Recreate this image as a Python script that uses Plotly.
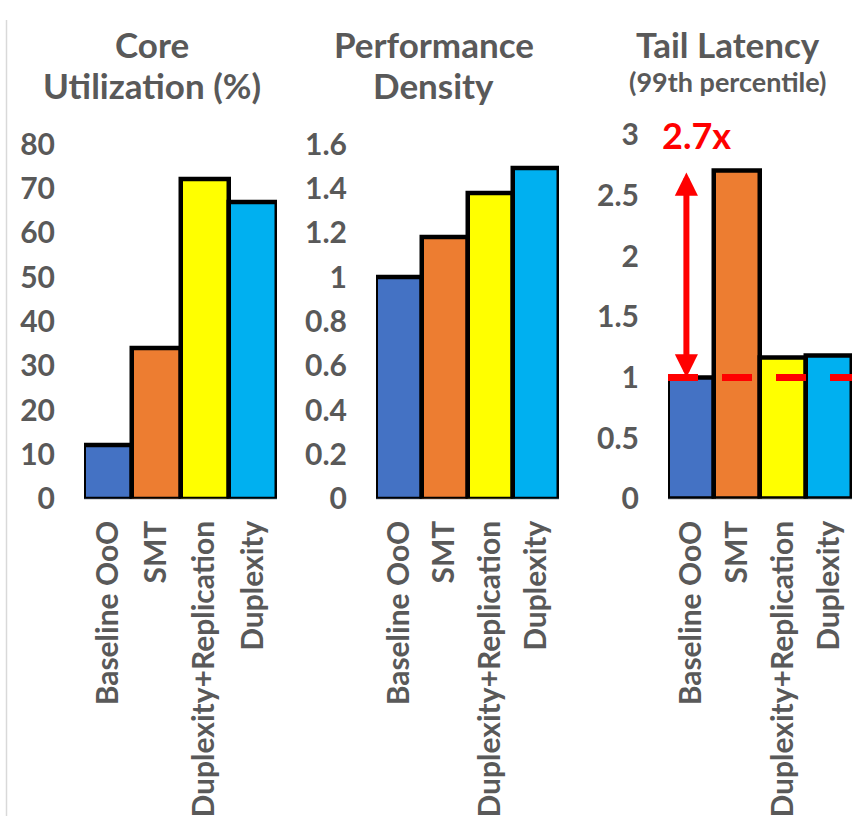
import plotly.graph_objects as go

# ---- data ----
categories = ["Baseline OoO", "SMT", "Duplexity+Replication", "Duplexity"]
bar_colors = ["#4472C4", "#ED7D31", "#FFFF00", "#00B0F0"]

core_utilization = [12, 34, 72, 67]
performance_density = [1.0, 1.18, 1.38, 1.49]
tail_latency = [1.0, 2.7, 1.16, 1.18]

util_ticks = [0, 10, 20, 30, 40, 50, 60, 70, 80]
density_ticks = [0, 0.2, 0.4, 0.6, 0.8, 1.0, 1.2, 1.4, 1.6]
latency_ticks = [0, 0.5, 1, 1.5, 2, 2.5, 3]
density_tick_text = ["0", "0.2", "0.4", "0.6", "0.8", "1", "1.2", "1.4", "1.6"]
latency_tick_text = ["0", "0.5", "1", "1.5", "2", "2.5", "3"]

baseline_latency = 1.0
latency_ratio_label = "2.7x"

W, H = 855, 833
FONT = "Lato"
GRAY = "#595959"
RED = "#FF0000"

def px_x(p):
    return p / W

def px_y(p):
    return 1 - p / H

fig = go.Figure()

panels = [
    ("x", "y", core_utilization),
    ("x2", "y2", performance_density),
    ("x3", "y3", tail_latency),
]
for xa, ya, vals in panels:
    fig.add_trace(go.Bar(
        x=list(range(len(categories))), y=vals,
        xaxis=xa, yaxis=ya,
        marker=dict(color=bar_colors, line=dict(color="black", width=4.5)),
        width=1.0, showlegend=False, hoverinfo="skip",
    ))

x_common = dict(
    range=[-0.5, 3.5], tickmode="array",
    tickvals=list(range(len(categories))), ticktext=categories,
    tickangle=-90, showgrid=False, zeroline=False,
    showline=True, linecolor="#D9D9D9", linewidth=1,
    tickfont=dict(family=FONT, size=30, color=GRAY, weight="bold"),
    ticklabelstandoff=9, fixedrange=True,
)
y_common = dict(
    showgrid=False, zeroline=False, showline=False,
    tickfont=dict(family=FONT, size=30, color=GRAY, weight="bold"),
    ticklabelstandoff=28, fixedrange=True, tickmode="array",
)

BASE = 501
fig.update_layout(
    width=W, height=H,
    margin=dict(l=0, r=0, t=0, b=0),
    paper_bgcolor="white", plot_bgcolor="white",
    bargap=0,
    xaxis=dict(domain=[px_x(84), px_x(277)], anchor="y", **x_common),
    xaxis2=dict(domain=[px_x(376), px_x(559)], anchor="y2", **x_common),
    xaxis3=dict(domain=[px_x(668), px_x(852)], anchor="y3", **x_common),
    yaxis=dict(domain=[px_y(BASE), px_y(130)], anchor="x", range=[0, 80],
               tickvals=util_ticks, ticktext=[str(v) for v in util_ticks], **y_common),
    yaxis2=dict(domain=[px_y(BASE), px_y(130)], anchor="x2", range=[0, 1.6],
                tickvals=density_ticks, ticktext=density_tick_text, **y_common),
    yaxis3=dict(domain=[px_y(BASE), px_y(120)], anchor="x3", range=[0, 3],
                tickvals=latency_ticks, ticktext=latency_tick_text, **y_common),
)

# panel titles
titles = [
    ("Core", 152, 25, 35),
    ("Utilization (%)", 152, 68, 35),
    ("Performance", 434, 25, 35),
    ("Density", 434, 68, 35),
    ("Tail Latency", 728, 25, 35),
    ("(99th percentile)", 728, 64, 27),
]
for text, cx, cy, size in titles:
    fig.add_annotation(
        text=text, xref="paper", yref="paper", x=px_x(cx), y=px_y(cy),
        xanchor="center", yanchor="middle", showarrow=False,
        font=dict(family=FONT, size=size, color=GRAY, weight="bold"),
    )

# dashed baseline reference in the tail-latency panel
fig.add_shape(
    type="line", xref="x3", yref="y3",
    x0=-0.5, x1=3.6, y0=baseline_latency, y1=baseline_latency,
    line=dict(color=RED, width=7, dash="30px,24px"),
)

# double-headed arrow from baseline to SMT latency
fig.add_annotation(
    xref="x3", yref="y3", axref="x3", ayref="y3",
    x=-0.1, y=baseline_latency, ax=-0.1, ay=tail_latency[1],
    text="", showarrow=True, arrowhead=2, startarrowhead=2,
    arrowside="end+start", arrowwidth=6, arrowsize=0.77, startarrowsize=0.77,
    arrowcolor=RED, standoff=0, startstandoff=0,
)
fig.add_annotation(
    xref="x3", yref="y3", x=0.12, y=3.0,
    text=latency_ratio_label, showarrow=False,
    xanchor="center", yanchor="middle",
    font=dict(family=FONT, size=36, color=RED, weight="bold"),
)

# thin frame line along the left edge
fig.add_shape(
    type="line", xref="paper", yref="paper",
    x0=px_x(6.5), x1=px_x(6.5), y0=0, y1=1,
    line=dict(color="#D9D9D9", width=1.5),
)

fig.write_html("out.html")
